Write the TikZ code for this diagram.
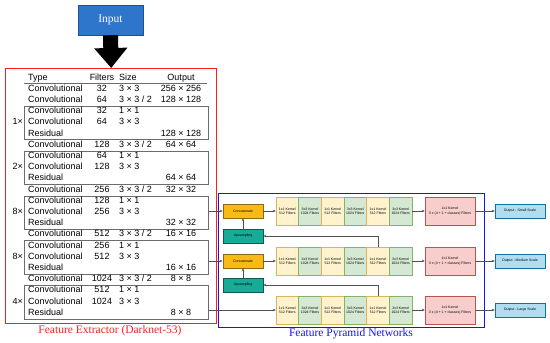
\documentclass[tikz,border=0pt]{standalone}
\usepackage{fontspec}
\setmainfont{Liberation Serif}
\setsansfont{Liberation Sans}
\usetikzlibrary{arrows.meta}
\definecolor{inblue}{RGB}{46,117,204}
\definecolor{inblueb}{RGB}{30,80,150}
\definecolor{catf}{RGB}{250,186,20}
\definecolor{catb}{RGB}{140,105,20}
\definecolor{upf}{RGB}{22,172,152}
\definecolor{upb}{RGB}{12,90,80}
\definecolor{yelf}{HTML}{FFF2CC}
\definecolor{yelb}{HTML}{D6B656}
\definecolor{grnf}{HTML}{D5E8D4}
\definecolor{grnb}{HTML}{82B366}
\definecolor{redf}{HTML}{F8CECC}
\definecolor{redb}{HTML}{B85450}
\definecolor{outf}{HTML}{B1DDF0}
\definecolor{outb}{HTML}{10739E}
\definecolor{conncol}{RGB}{80,80,80}
\definecolor{feRed}{RGB}{255,30,30}
\definecolor{fpnBlue}{RGB}{20,20,235}
\newcommand\dkrow[5]{%
 \pgfmathsetmacro\ry{89+11.2*#1}%
 \node[cell,anchor=west] (ty#1) at (28,\ry) {#2};
 \node[cell] (fi#1) at (102,\ry) {#3};
 \node[cell,anchor=west] (sz#1) at (119,\ry) {#4};
 \node[cell] (ou#1) at (181,\ry) {#5};}
\begin{document}
\begin{tikzpicture}[x=1pt,y=-1pt,
 cell/.style={inner sep=0pt, font=\sffamily\fontsize{9}{10}\selectfont, text height=6.5pt, text depth=1.8pt},
 grp/.style={draw=gray!85!black, line width=0.6pt, inner sep=0pt, anchor=north west, minimum width=184pt, minimum height=33.4pt},
 blk/.style={draw, line width=0.4pt, minimum width=22.67pt, minimum height=28pt, inner sep=0pt, align=center, font=\sffamily\fontsize{3.5}{4.3}\selectfont},
 k1/.style={blk, fill=yelf, draw=yelb},
 k3/.style={blk, fill=grnf, draw=grnb},
 headbox/.style={blk, fill=redf, draw=redb, minimum width=50pt},
 outbox/.style={blk, fill=outf, draw=outb, minimum width=50pt, minimum height=14pt},
 catbox/.style={blk, fill=catf, draw=catb, line width=0.5pt, minimum width=40pt, minimum height=14pt},
 upbox/.style={blk, fill=upf, draw=upb, line width=0.5pt, minimum width=40pt, minimum height=14pt},
 conn/.style={draw=conncol, line width=0.5pt, -{Stealth[length=3pt,width=2.5pt]}}]
\useasboundingbox (0,0) rectangle (550,343);

% Input and big arrow
\node[fill=inblue, draw=inblueb, line width=0.5pt, minimum width=65pt, minimum height=30pt, inner sep=0pt,
  text=white, font=\fontsize{11.5}{13}\selectfont] (input) at (110.5,20) {Input};
\node[draw=feRed, line width=1.4pt, anchor=north west, minimum width=211pt, minimum height=255pt, inner sep=0pt] (fe) at (5,68) {};
\draw[black, line width=15pt, -{Triangle[length=20pt,width=32pt]}] (input.south) -- (fe.north);

% Table header
\node[cell,anchor=west] (hty) at (28,78) {Type};
\node[cell] (hfi) at (102,78) {Filters};
\node[cell,anchor=west] (hsz) at (119,78) {Size};
\node[cell] (hou) at (181,78) {Output};
\draw[gray!85!black, line width=0.6pt] (24,83.5) -- (207,83.5);

% Group boxes and multipliers
\foreach \k/\s/\m in {1/2/1,2/6/2,3/10/8,4/14/8,5/18/4}{
  \pgfmathsetmacro\gt{89+11.2*\s-5.5}
  \pgfmathsetmacro\gm{89+11.2*(\s+1)}
  \node[grp] (g\k) at (24,\gt) {};
  \node[cell,anchor=east] (mul\k) at (23,\gm) {\m×};
}

% Table rows
\dkrow{0}{Convolutional}{32}{3 × 3}{256 × 256}
\dkrow{1}{Convolutional}{64}{3 × 3 / 2}{128 × 128}
\dkrow{2}{Convolutional}{32}{1 × 1}{}
\dkrow{3}{Convolutional}{64}{3 × 3}{}
\dkrow{4}{Residual}{}{}{128 × 128}
\dkrow{5}{Convolutional}{128}{3 × 3 / 2}{64 × 64}
\dkrow{6}{Convolutional}{64}{1 × 1}{}
\dkrow{7}{Convolutional}{128}{3 × 3}{}
\dkrow{8}{Residual}{}{}{64 × 64}
\dkrow{9}{Convolutional}{256}{3 × 3 / 2}{32 × 32}
\dkrow{10}{Convolutional}{128}{1 × 1}{}
\dkrow{11}{Convolutional}{256}{3 × 3}{}
\dkrow{12}{Residual}{}{}{32 × 32}
\dkrow{13}{Convolutional}{512}{3 × 3 / 2}{16 × 16}
\dkrow{14}{Convolutional}{256}{1 × 1}{}
\dkrow{15}{Convolutional}{512}{3 × 3}{}
\dkrow{16}{Residual}{}{}{16 × 16}
\dkrow{17}{Convolutional}{1024}{3 × 3 / 2}{8 × 8}
\dkrow{18}{Convolutional}{512}{1 × 1}{}
\dkrow{19}{Convolutional}{1024}{3 × 3}{}
\dkrow{20}{Residual}{}{}{8 × 8}

\node[text=feRed, font=\fontsize{11.5}{13}\selectfont, inner sep=0pt] (felabel) at (110,331) {Feature Extractor (Darknet-53)};

% FPN frame
\node[draw=fpnBlue, line width=1.4pt, anchor=north west, minimum width=266pt, minimum height=134pt, inner sep=0pt] (fpn) at (218,193) {};
\node[text=fpnBlue, font=\fontsize{11.5}{13}\selectfont, inner sep=0pt] (fpnlabel) at (351,334) {Feature Pyramid Networks};

% FPN rows
\foreach \r/\cy/\sc in {1/211/Small,2/261/Medium,3/310/Large}{
  \foreach \b/\st/\tx in {1/k1/{1x1 Kernel\\512 Filters},2/k3/{3x3 Kernel\\1024 Filters},3/k1/{1x1 Kernel\\512 Filters},4/k3/{3x3 Kernel\\1024 Filters},5/k1/{1x1 Kernel\\512 Filters},6/k3/{3x3 Kernel\\1024 Filters}}{
    \node[\st] (b\r-\b) at ({276+22.67*(\b-0.5)},\cy) {\tx};
  }
  \node[headbox] (head\r) at (450,\cy) {1x1 Kernel\\3 x (4 + 1 + classes) Filters};
  \node[outbox] (res\r) at (520,\cy) {Output - \sc\ Scale};
  \draw[conn] (b\r-6) -- (head\r);
  \draw[conn] (head\r) -- (res\r);
}

\node[catbox] (cat1) at (243,211) {Concatenate};
\node[catbox] (cat2) at (243,261) {Concatenate};
\node[upbox] (up1) at (243,236) {Upsampling};
\node[upbox] (up2) at (243,285) {Upsampling};

\draw[conn] (g3.east |- cat1.west) -- (cat1.west);
\draw[conn] (g4.east |- cat2.west) -- (cat2.west);
\draw[conn] (g5.east |- b3-1.west) -- (b3-1.west);
\draw[conn] (cat1) -- (b1-1);
\draw[conn] (cat2) -- (b2-1);
\draw[conn] (up1) -- (cat1);
\draw[conn] (up2) -- (cat2);
\draw[conn] (b2-5.north) |- (up1.east);
\draw[conn] (b3-5.north) |- (up2.east);
\end{tikzpicture}
\end{document}
